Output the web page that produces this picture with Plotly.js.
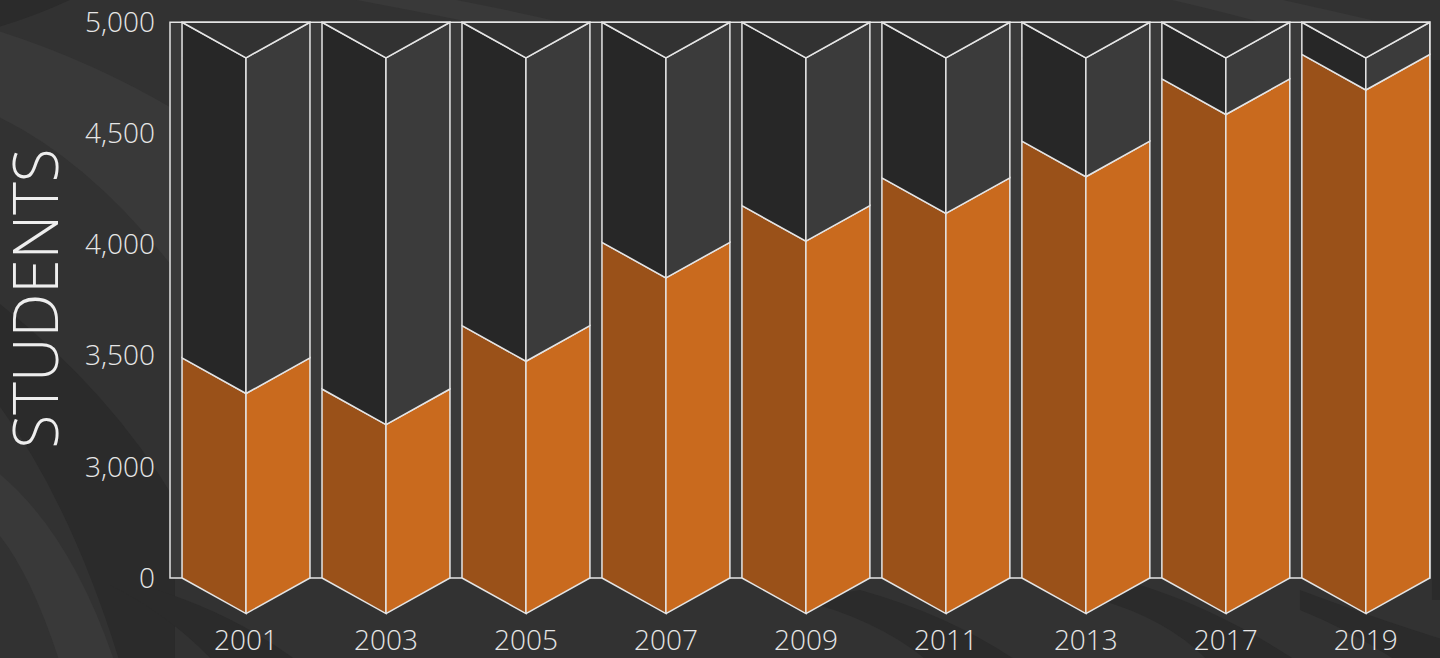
<!DOCTYPE html>
<html>
<head>
<meta charset="utf-8">
<script src="https://cdn.plot.ly/plotly-3.0.1.min.js"></script>
<style>
  html, body { margin: 0; padding: 0; background: #323232; }
  #chart { width: 1440px; height: 658px; }
</style>
</head>
<body>
<div id="chart"></div>
<script>
// ---- data ----
const years = ['2001', '2003', '2005', '2007', '2009', '2011', '2013', '2017', '2019'];
const students = [3490, 3350, 3635, 4010, 4175, 4300, 4465, 4745, 4855];
const axisBase = 2500;   // shown as "0" on the truncated axis
const axisMax = 5000;
const tickValues = [2500, 3000, 3500, 4000, 4500, 5000];
const tickLabels = ['0', '3,000', '3,500', '4,000', '4,500', '5,000'];

// ---- style ----
const halfW = 0.457;      // half bar width (category units)
const depth = 160;        // V depth (value units)
const edge = '#e4e4e4';
const edgeW = 1.5;
const M = { l: 167, r: 7, t: 20, b: 40 };
const W = 1440, H = 658;
const plotW = W - M.l - M.r, plotH = H - M.t - M.b;

function facePolys(makePts) {
  const xs = [], ys = [];
  students.forEach((v, i) => {
    const pts = makePts(i, v);
    pts.forEach(p => { xs.push(p[0]); ys.push(p[1]); });
    xs.push(pts[0][0]); ys.push(pts[0][1]);
    xs.push(null); ys.push(null);
  });
  return { xs, ys };
}
function faceTrace(name, color, makePts) {
  const p = facePolys(makePts);
  return {
    type: 'scatter', mode: 'lines', name, x: p.xs, y: p.ys,
    fill: 'toself', fillcolor: color,
    line: { color: edge, width: edgeW }, hoverinfo: 'skip', showlegend: false
  };
}

const traces = [
  faceTrace('orange-left', '#9a5119', (c, v) => [[c - halfW, axisBase], [c - halfW, v], [c, v - depth], [c, axisBase - depth]]),
  faceTrace('orange-right', '#c96a1e', (c, v) => [[c, axisBase - depth], [c, v - depth], [c + halfW, v], [c + halfW, axisBase]]),
  faceTrace('rest-left', '#272727', (c, v) => [[c - halfW, v], [c - halfW, axisMax], [c, axisMax - depth], [c, v - depth]]),
  faceTrace('rest-right', '#3b3b3b', (c, v) => [[c, v - depth], [c, axisMax - depth], [c + halfW, axisMax], [c + halfW, v]]),
  faceTrace('top', '#323232', (c, v) => [[c - halfW, axisMax], [c + halfW, axisMax], [c, axisMax - depth]])
];

// pixel -> paper helpers for decorative background stripes
const px = x => ((x - M.l) / plotW).toFixed(4);
const py = y => ((H - M.b - y) / plotH).toFixed(4);
function stripe(cmds, color) {
  let s = '';
  cmds.forEach(c => {
    s += c[0] + ' ';
    for (let k = 1; k < c.length; k += 2) s += px(c[k]) + ',' + py(c[k + 1]) + ' ';
  });
  return { type: 'path', xref: 'paper', yref: 'paper', path: s + 'Z', fillcolor: color, line: { width: 0 }, layer: 'below' };
}
const light = '#393939', dark = '#2b2b2b';
const bgShapes = [
  stripe([['M', -5, 30], ['Q', 90, 60, 175, 110], ['L', 175, 270], ['Q', 90, 160, -5, 115]], light),
  stripe([['M', -5, -5], ['L', 80, -5], ['Q', 40, 15, -5, 28]], dark),
  stripe([['M', 330, -5], ['L', 430, -5], ['Q', 500, 8, 560, 22], ['L', 470, 22], ['Q', 400, 8, 330, -5]], light),
  stripe([['M', 1150, -5], ['L', 1260, -5], ['Q', 1320, 8, 1380, 22], ['L', 1260, 22], ['Q', 1200, 6, 1150, -5]], light),
  stripe([['M', -5, 300], ['Q', 110, 390, 175, 500], ['L', 175, 663], ['L', 120, 663], ['Q', 70, 500, -5, 400]], dark),
  stripe([['M', -5, 470], ['Q', 70, 530, 115, 663], ['L', 60, 663], ['Q', 30, 570, -5, 530]], light),
  stripe([['M', 140, 585], ['Q', 230, 610, 300, 663], ['L', 215, 663], ['Q', 170, 615, 110, 585]], dark),
  stripe([['M', 860, 590], ['Q', 950, 615, 1020, 663], ['L', 930, 663], ['Q', 880, 620, 800, 600]], dark),
  stripe([['M', 1140, 585], ['Q', 1220, 610, 1300, 663], ['L', 1210, 663], ['Q', 1170, 620, 1100, 600]], dark),
  stripe([['M', 1300, 590], ['Q', 1380, 620, 1445, 640], ['L', 1445, 663], ['L', 1400, 663], ['Q', 1350, 630, 1300, 610]], dark),
  stripe([['M', 1432, 60], ['L', 1445, 60], ['L', 1445, 600], ['L', 1432, 600]], dark)
];

const frame = {
  type: 'rect', xref: 'x', yref: 'y', layer: 'below',
  x0: -0.543, x1: students.length - 1 + halfW, y0: axisBase, y1: axisMax,
  fillcolor: '#3a3a3a', line: { color: edge, width: edgeW }
};

const layout = {
  width: W, height: H,
  margin: M,
  paper_bgcolor: '#323232',
  plot_bgcolor: 'rgba(0,0,0,0)',
  showlegend: false,
  font: { family: 'Open Sans, sans-serif', weight: 300, color: '#e6e6e6' },
  xaxis: {
    range: [-0.5644, 8.48],
    tickmode: 'array',
    tickvals: years.map((_, i) => i),
    ticktext: years,
    showgrid: false, zeroline: false, showline: false, ticks: '',
    tickfont: { family: 'Open Sans, sans-serif', weight: 300, size: 28, color: '#e6e6e6' },
    ticklabelstandoff: 3,
    fixedrange: true
  },
  yaxis: {
    range: [2320, 5010],
    tickmode: 'array',
    tickvals: tickValues,
    ticktext: tickLabels,
    showgrid: false, zeroline: false, showline: false, ticks: '',
    tickfont: { family: 'Open Sans, sans-serif', weight: 300, size: 28, color: '#e6e6e6' },
    ticklabelstandoff: 11,
    fixedrange: true
  },
  shapes: bgShapes.concat([frame]),
  annotations: [{
    text: 'STUDENTS', textangle: -90, showarrow: false,
    xref: 'paper', yref: 'paper',
    x: Number(px(35)), y: Number(py(298.5)), xanchor: 'center', yanchor: 'middle',
    font: { family: 'Open Sans, sans-serif', weight: 300, size: 62, color: '#eeeeee' }
  }]
};

Plotly.newPlot('chart', traces, layout, { displayModeBar: false, staticPlot: true });
</script>
</body>
</html>
